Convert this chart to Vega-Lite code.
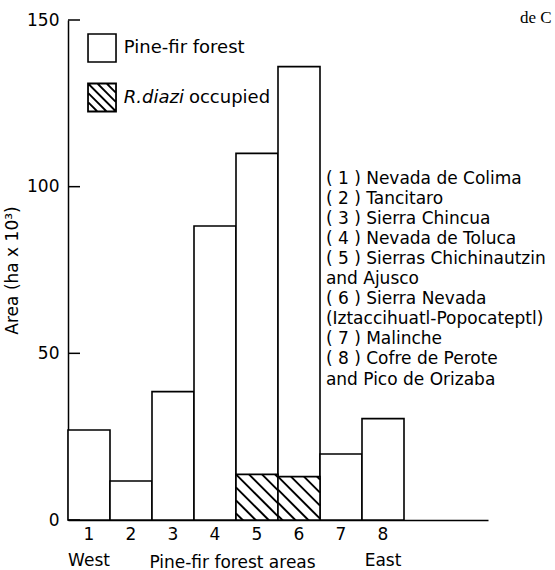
{
  "$schema": "https://vega.github.io/schema/vega-lite/v6.json",
  "width": 420,
  "height": 500,
  "autosize": {"type": "none"},
  "padding": {"left": 68, "top": 20, "right": 67, "bottom": 50},
  "background": "white",
  "config": {
    "view": {"stroke": null},
    "font": "DejaVu Sans",
    "axis": {"domainColor": "black", "domainWidth": 1.5, "tickColor": "black", "tickWidth": 1.5, "labelColor": "black", "titleColor": "black", "grid": false, "labelFont": "DejaVu Sans", "titleFont": "DejaVu Sans", "titleFontWeight": "normal"},
    "text": {"fontWeight": "normal", "fill": "black"}
  },
  "datasets": {
    "areas": [
      {"area": 1, "total": 27.0},
      {"area": 2, "total": 11.7},
      {"area": 3, "total": 38.5},
      {"area": 4, "total": 88.2},
      {"area": 5, "total": 110.0, "occupied": 13.7},
      {"area": 6, "total": 136.0, "occupied": 13.0},
      {"area": 7, "total": 19.8},
      {"area": 8, "total": 30.4}
    ],
    "yticks": [{"tick": 0}, {"tick": 50}, {"tick": 100}, {"tick": 150}],
    "legend1": [{"label": "Pine-fir forest"}],
    "legend2": [{"label": "R.diazi", "rest": "occupied"}],
    "sites": [{"lines": ["( 1 ) Nevada de Colima", "( 2 ) Tancitaro", "( 3 ) Sierra Chincua", "( 4 ) Nevada de Toluca", "( 5 ) Sierras Chichinautzin", "and Ajusco", "( 6 ) Sierra Nevada", "(Iztaccihuatl-Popocateptl)", "( 7 ) Malinche", "( 8 ) Cofre de Perote", "and Pico de Orizaba"]}],
    "corner": [{"label": "de C"}]
  },
  "data": {"name": "areas"},
  "encoding": {
    "x": {
      "field": "area",
      "type": "ordinal",
      "scale": {"domain": [1, 2, 3, 4, 5, 6, 7, 8, 9, 10], "paddingInner": 0, "paddingOuter": 0},
      "axis": {
        "title": "Pine-fir forest areas",
        "labelAngle": 0,
        "ticks": false,
        "labelFontSize": 17,
        "labelPadding": 6,
        "labelLineHeight": 26,
        "labelOverlap": false,
        "labelExpr": "datum.value == 1 ? ['1', 'West'] : datum.value == 8 ? ['8', 'East'] : datum.value <= 8 ? '' + datum.value : ''",
        "titleFontSize": 17,
        "titleX": 164,
        "titleY": 42,
        "titleBaseline": "middle",
        "titleAlign": "center"
      }
    }
  },
  "layer": [
    {
      "mark": {"type": "bar", "fill": "white", "stroke": "black", "strokeWidth": 1.6},
      "encoding": {
        "y": {
          "field": "total",
          "type": "quantitative",
          "scale": {"domain": [0, 150], "nice": false},
          "axis": {
            "title": "Area (ha x 10³)",
            "values": [0, 50, 100, 150],
            "ticks": false,
            "labelPadding": 9,
            "labelFontSize": 17,
            "titleFontSize": 17,
            "titlePadding": 5
          }
        }
      }
    },
    {
      "transform": [{"filter": "isValid(datum.occupied)"}],
      "mark": {"type": "bar", "fill": "white", "stroke": "black", "strokeWidth": 1.6},
      "encoding": {"y": {"field": "occupied", "type": "quantitative"}}
    },
    {
      "transform": [{"filter": "isValid(datum.occupied)"}],
      "mark": {
        "type": "point",
        "shape": "M18,0L21,3M5,0L21,16M-8,0L21,29M-21,0L21,42M-21,13L21,55M-21,26L21,68M-21,39L21,81",
        "size": 4,
        "filled": false,
        "stroke": "black",
        "strokeWidth": 2,
        "opacity": 1,
        "clip": true
      },
      "encoding": {"y": {"field": "occupied", "type": "quantitative"}}
    },
    {
      "data": {"name": "yticks"},
      "mark": {"type": "point", "shape": "M0,0L12,0", "size": 4, "filled": false, "stroke": "black", "strokeWidth": 1.5, "opacity": 1},
      "encoding": {
        "x": {"datum": 1, "type": "ordinal", "bandPosition": 0},
        "y": {"field": "tick", "type": "quantitative"}
      }
    },
    {
      "data": {"name": "legend1"},
      "mark": {"type": "point", "shape": "square", "size": 784, "filled": true, "fill": "white", "stroke": "black", "strokeWidth": 1.6, "opacity": 1},
      "encoding": {
        "x": {"datum": 1, "type": "ordinal", "bandPosition": 0.81},
        "y": {"datum": 141.6, "type": "quantitative"}
      }
    },
    {
      "data": {"name": "legend2"},
      "mark": {
        "type": "point",
        "shape": "M-1,-1H1V1H-1ZM-1,-1L1,1M-0.33,-1L1,0.33M0.33,-1L1,-0.33M-1,-0.33L0.33,1M-1,0.33L-0.33,1",
        "size": 784,
        "filled": true,
        "fill": "white",
        "stroke": "black",
        "strokeWidth": 1.8,
        "opacity": 1
      },
      "encoding": {
        "x": {"datum": 1, "type": "ordinal", "bandPosition": 0.81},
        "y": {"datum": 126.75, "type": "quantitative"}
      }
    },
    {
      "data": {"name": "legend1"},
      "mark": {"type": "text", "align": "left", "baseline": "middle", "fontSize": 18, "fontWeight": "normal", "fill": "black"},
      "encoding": {
        "text": {"field": "label"},
        "x": {"datum": 2, "type": "ordinal", "bandPosition": 0.33},
        "y": {"datum": 141.6, "type": "quantitative"}
      }
    },
    {
      "data": {"name": "legend2"},
      "mark": {"type": "text", "align": "left", "baseline": "middle", "fontSize": 18, "fontStyle": "italic", "fontWeight": "normal", "fill": "black"},
      "encoding": {
        "text": {"field": "label"},
        "x": {"datum": 2, "type": "ordinal", "bandPosition": 0.33},
        "y": {"datum": 126.75, "type": "quantitative"}
      }
    },
    {
      "data": {"name": "legend2"},
      "mark": {"type": "text", "align": "left", "baseline": "middle", "fontSize": 18, "fontWeight": "normal", "fill": "black"},
      "encoding": {
        "text": {"field": "rest"},
        "x": {"datum": 3, "type": "ordinal", "bandPosition": 0.88},
        "y": {"datum": 126.75, "type": "quantitative"}
      }
    },
    {
      "data": {"name": "sites"},
      "mark": {
        "type": "text",
        "align": "left",
        "baseline": "middle",
        "fontSize": 17,
        "fontWeight": "normal",
        "lineHeight": 20.1,
        "fill": "black"
      },
      "encoding": {
        "text": {"field": "lines"},
        "x": {"datum": 7, "type": "ordinal", "bandPosition": 0.14},
        "y": {"datum": 102.45, "type": "quantitative"}
      }
    },
    {
      "data": {"name": "corner"},
      "mark": {"type": "text", "align": "left", "baseline": "middle", "fontSize": 17, "fontWeight": "normal", "font": "Liberation Serif", "fill": "black"},
      "encoding": {
        "text": {"field": "label"},
        "x": {"datum": 10, "type": "ordinal", "bandPosition": 1.76},
        "y": {"datum": 150.6, "type": "quantitative"}
      }
    }
  ]
}
